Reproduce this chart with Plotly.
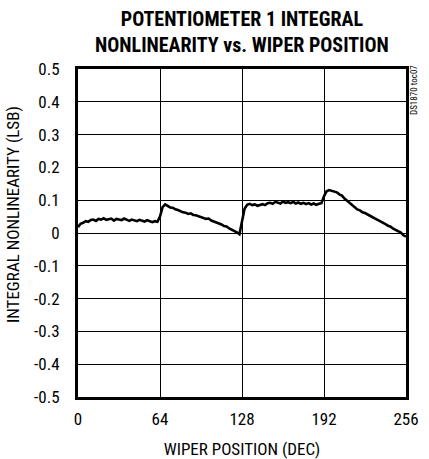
import plotly.graph_objects as go

# Wiper position codes (DEC)
wiper = list(range(0, 257, 2))

# Integral nonlinearity (LSB)
inl = [
    0.018, 0.028, 0.031, 0.036, 0.034, 0.040, 0.041, 0.037, 0.043, 0.041,
    0.045, 0.040, 0.042, 0.044, 0.038, 0.043, 0.041, 0.039, 0.044, 0.040,
    0.037, 0.041, 0.039, 0.036, 0.040, 0.038, 0.035, 0.039, 0.036, 0.033,
    0.036, 0.034,
    0.050, 0.079, 0.087, 0.083, 0.078, 0.077, 0.072, 0.070, 0.066, 0.063,
    0.062, 0.058, 0.060, 0.055, 0.054, 0.051, 0.050, 0.046, 0.043, 0.044,
    0.038, 0.035, 0.032, 0.030, 0.026, 0.021, 0.020, 0.014, 0.010, 0.007,
    0.002, -0.004,
    0.035, 0.074, 0.086, 0.089, 0.085, 0.087, 0.083, 0.086, 0.088, 0.085,
    0.091, 0.092, 0.089, 0.095, 0.093, 0.090, 0.096, 0.092, 0.094, 0.091,
    0.095, 0.090, 0.093, 0.089, 0.092, 0.088, 0.091, 0.087, 0.090, 0.086,
    0.089, 0.091,
    0.112, 0.127, 0.131, 0.128, 0.126, 0.124, 0.118, 0.114, 0.105, 0.098,
    0.092, 0.083, 0.079, 0.072, 0.069, 0.063, 0.061, 0.056, 0.052, 0.048,
    0.044, 0.040, 0.035, 0.033, 0.027, 0.022, 0.019, 0.013, 0.009, 0.004,
    0.001, -0.007, -0.011,
]

x_ticks = [0, 64, 128, 192, 256]
y_ticks = [-0.5, -0.4, -0.3, -0.2, -0.1, 0, 0.1, 0.2, 0.3, 0.4, 0.5]
y_tick_text = ["-0.5", "-0.4", "-0.3", "-0.2", "-0.1", "0", "0.1", "0.2", "0.3", "0.4", "0.5"]

FONT = "Liberation Sans Narrow, Roboto Condensed, Arial Narrow, DejaVu Sans Condensed, sans-serif"

fig = go.Figure()
fig.add_trace(go.Scatter(
    x=wiper, y=inl, mode="lines",
    line=dict(color="black", width=2.6),
    showlegend=False, hoverinfo="skip",
))

fig.update_layout(
    width=429, height=459,
    margin=dict(l=78, r=23, t=69, b=62, autoexpand=False),
    paper_bgcolor="white", plot_bgcolor="white",
    font=dict(family=FONT, color="black", size=17),
    xaxis=dict(
        range=[0, 256], tickvals=x_ticks, ticktext=[str(v) for v in x_ticks],
        showgrid=True, gridcolor="black", gridwidth=1,
        showline=True, linecolor="black", linewidth=3, mirror=True,
        ticks="", ticklabelstandoff=5, zeroline=False,
        title=dict(text="WIPER POSITION (DEC)", standoff=16, font=dict(size=17)),
        tickfont=dict(size=17),
    ),
    yaxis=dict(
        range=[-0.5, 0.5], tickvals=y_ticks, ticktext=y_tick_text,
        showgrid=True, gridcolor="black", gridwidth=1,
        showline=True, linecolor="black", linewidth=3, mirror=True,
        ticks="", ticklabelstandoff=12, zeroline=False,
        tickfont=dict(size=17),
    ),
    annotations=[
        dict(
            text="<b>POTENTIOMETER 1 INTEGRAL<br>NONLINEARITY vs. WIPER POSITION</b>",
            showarrow=False, xref="paper", yref="paper",
            x=0.5, y=1.114, xanchor="center", yanchor="middle",
            font=dict(family=FONT, size=20, color="black"),
        ),
        dict(
            text="INTEGRAL NONLINEARITY (LSB)", textangle=-90, showarrow=False,
            xref="paper", yref="paper", x=-0.198, y=0.555,
            xanchor="center", yanchor="middle",
            font=dict(family=FONT, size=17, color="black"),
        ),
        dict(
            text="DS1870 toc07", textangle=-90, showarrow=False,
            xref="paper", yref="paper", x=1.0, y=1.0, xanchor="left", yanchor="top",
            xshift=1, yshift=6,
            font=dict(family=FONT, size=9, color="black"),
        ),
    ],
)

fig.write_html(
    "out.html",
    config={"displayModeBar": False},
    post_script="document.body.style.margin='0';document.body.style.overflow='hidden';",
)
